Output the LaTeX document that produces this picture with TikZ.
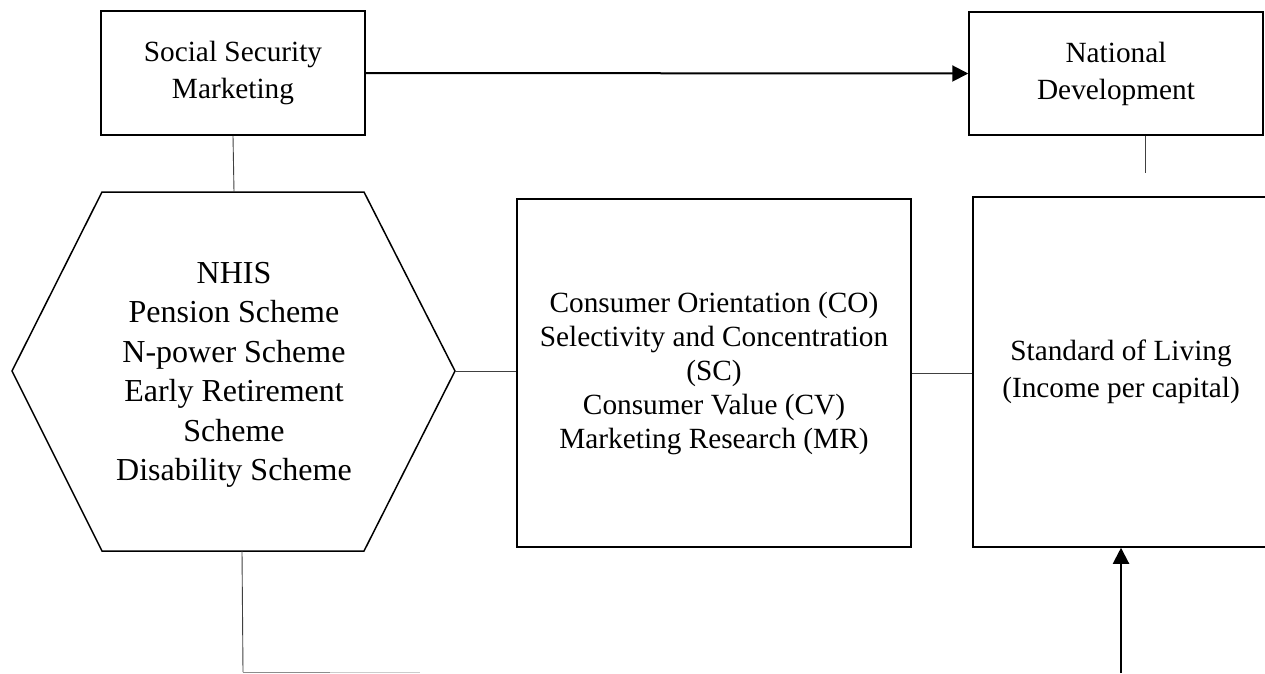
\documentclass[tikz,border=0pt]{standalone}
\usepackage{fontspec}
\setmainfont{Liberation Serif}
\usetikzlibrary{arrows.meta}
\begin{document}
\begin{tikzpicture}[x=1pt,y=-1pt,
  boxstyle/.style={draw=black,line width=1.5pt,inner sep=0pt,align=center,
    font={\fontsize{29.3}{37}\selectfont}},
  conn/.style={draw=black!75,line width=0.9pt},
  arr/.style={draw=black,line width=2pt,-{Triangle[length=16pt,width=16pt]}},
  hexstyle/.style={draw=black,line width=1.5pt,line join=miter}
]
\useasboundingbox (0,0) rectangle (1265,673);
\clip (0,0) rectangle (1265,673);

% boxes
\node[boxstyle,minimum width=264pt,minimum height=124pt] (ssm) at (233,73) {Social Security\\Marketing};
\node[boxstyle,minimum width=294pt,minimum height=123pt] (nd) at (1116,73.5) {National\\Development};
\node[boxstyle,minimum width=394pt,minimum height=348pt,
  font={\fontsize{29.3}{34}\selectfont}] (mid) at (714,373)
  {Consumer Orientation (CO)\\Selectivity and Concentration\\(SC)\\Consumer Value (CV)\\Marketing Research (MR)};
\node[boxstyle,minimum width=296pt,minimum height=350pt] (sol) at (1121,372)
  {Standard of Living\\(Income per capital)};

% hexagon
\coordinate (h1) at (102,192);
\coordinate (h2) at (364,192);
\coordinate (hexR) at (455,371);
\coordinate (h4) at (364,551);
\coordinate (h5) at (102,551);
\coordinate (h6) at (12,371);
\draw[hexstyle] (h1) -- (h2) -- (hexR) -- (h4) -- (h5) -- (h6) -- cycle;
\node[align=center,inner sep=0pt,font={\fontsize{32}{39.5}\selectfont}] (hex) at (234,375)
  {NHIS\\Pension Scheme\\N-power Scheme\\Early Retirement\\Scheme\\Disability Scheme};
\coordinate (hexT) at (234,192);
\coordinate (hexB) at (242,551);

% connectors
\draw[arr] (ssm.east) -- (nd.west);
\draw[conn] (ssm.south) -- (hexT);
\coordinate (ndl) at (1145,173);
\draw[conn] (ndl |- nd.south) -- (ndl);
\draw[conn] (hexR) -- (hexR -| mid.west);
\draw[conn] (mid.east) -- (mid.east -| sol.west);
\coordinate (ab) at (1121,673);
\draw[arr] (ab) -- (sol.south);
\coordinate (bl) at (243,672);
\coordinate (bm) at (330,672);
\coordinate (br) at (420,672);
\draw[conn] (hexB) -- (bl);
\draw[draw=black!45,line width=0.9pt] (bl) -- (bm);
\draw[draw=black!20,line width=0.9pt] (bm) -- (br);
\end{tikzpicture}
\end{document}
